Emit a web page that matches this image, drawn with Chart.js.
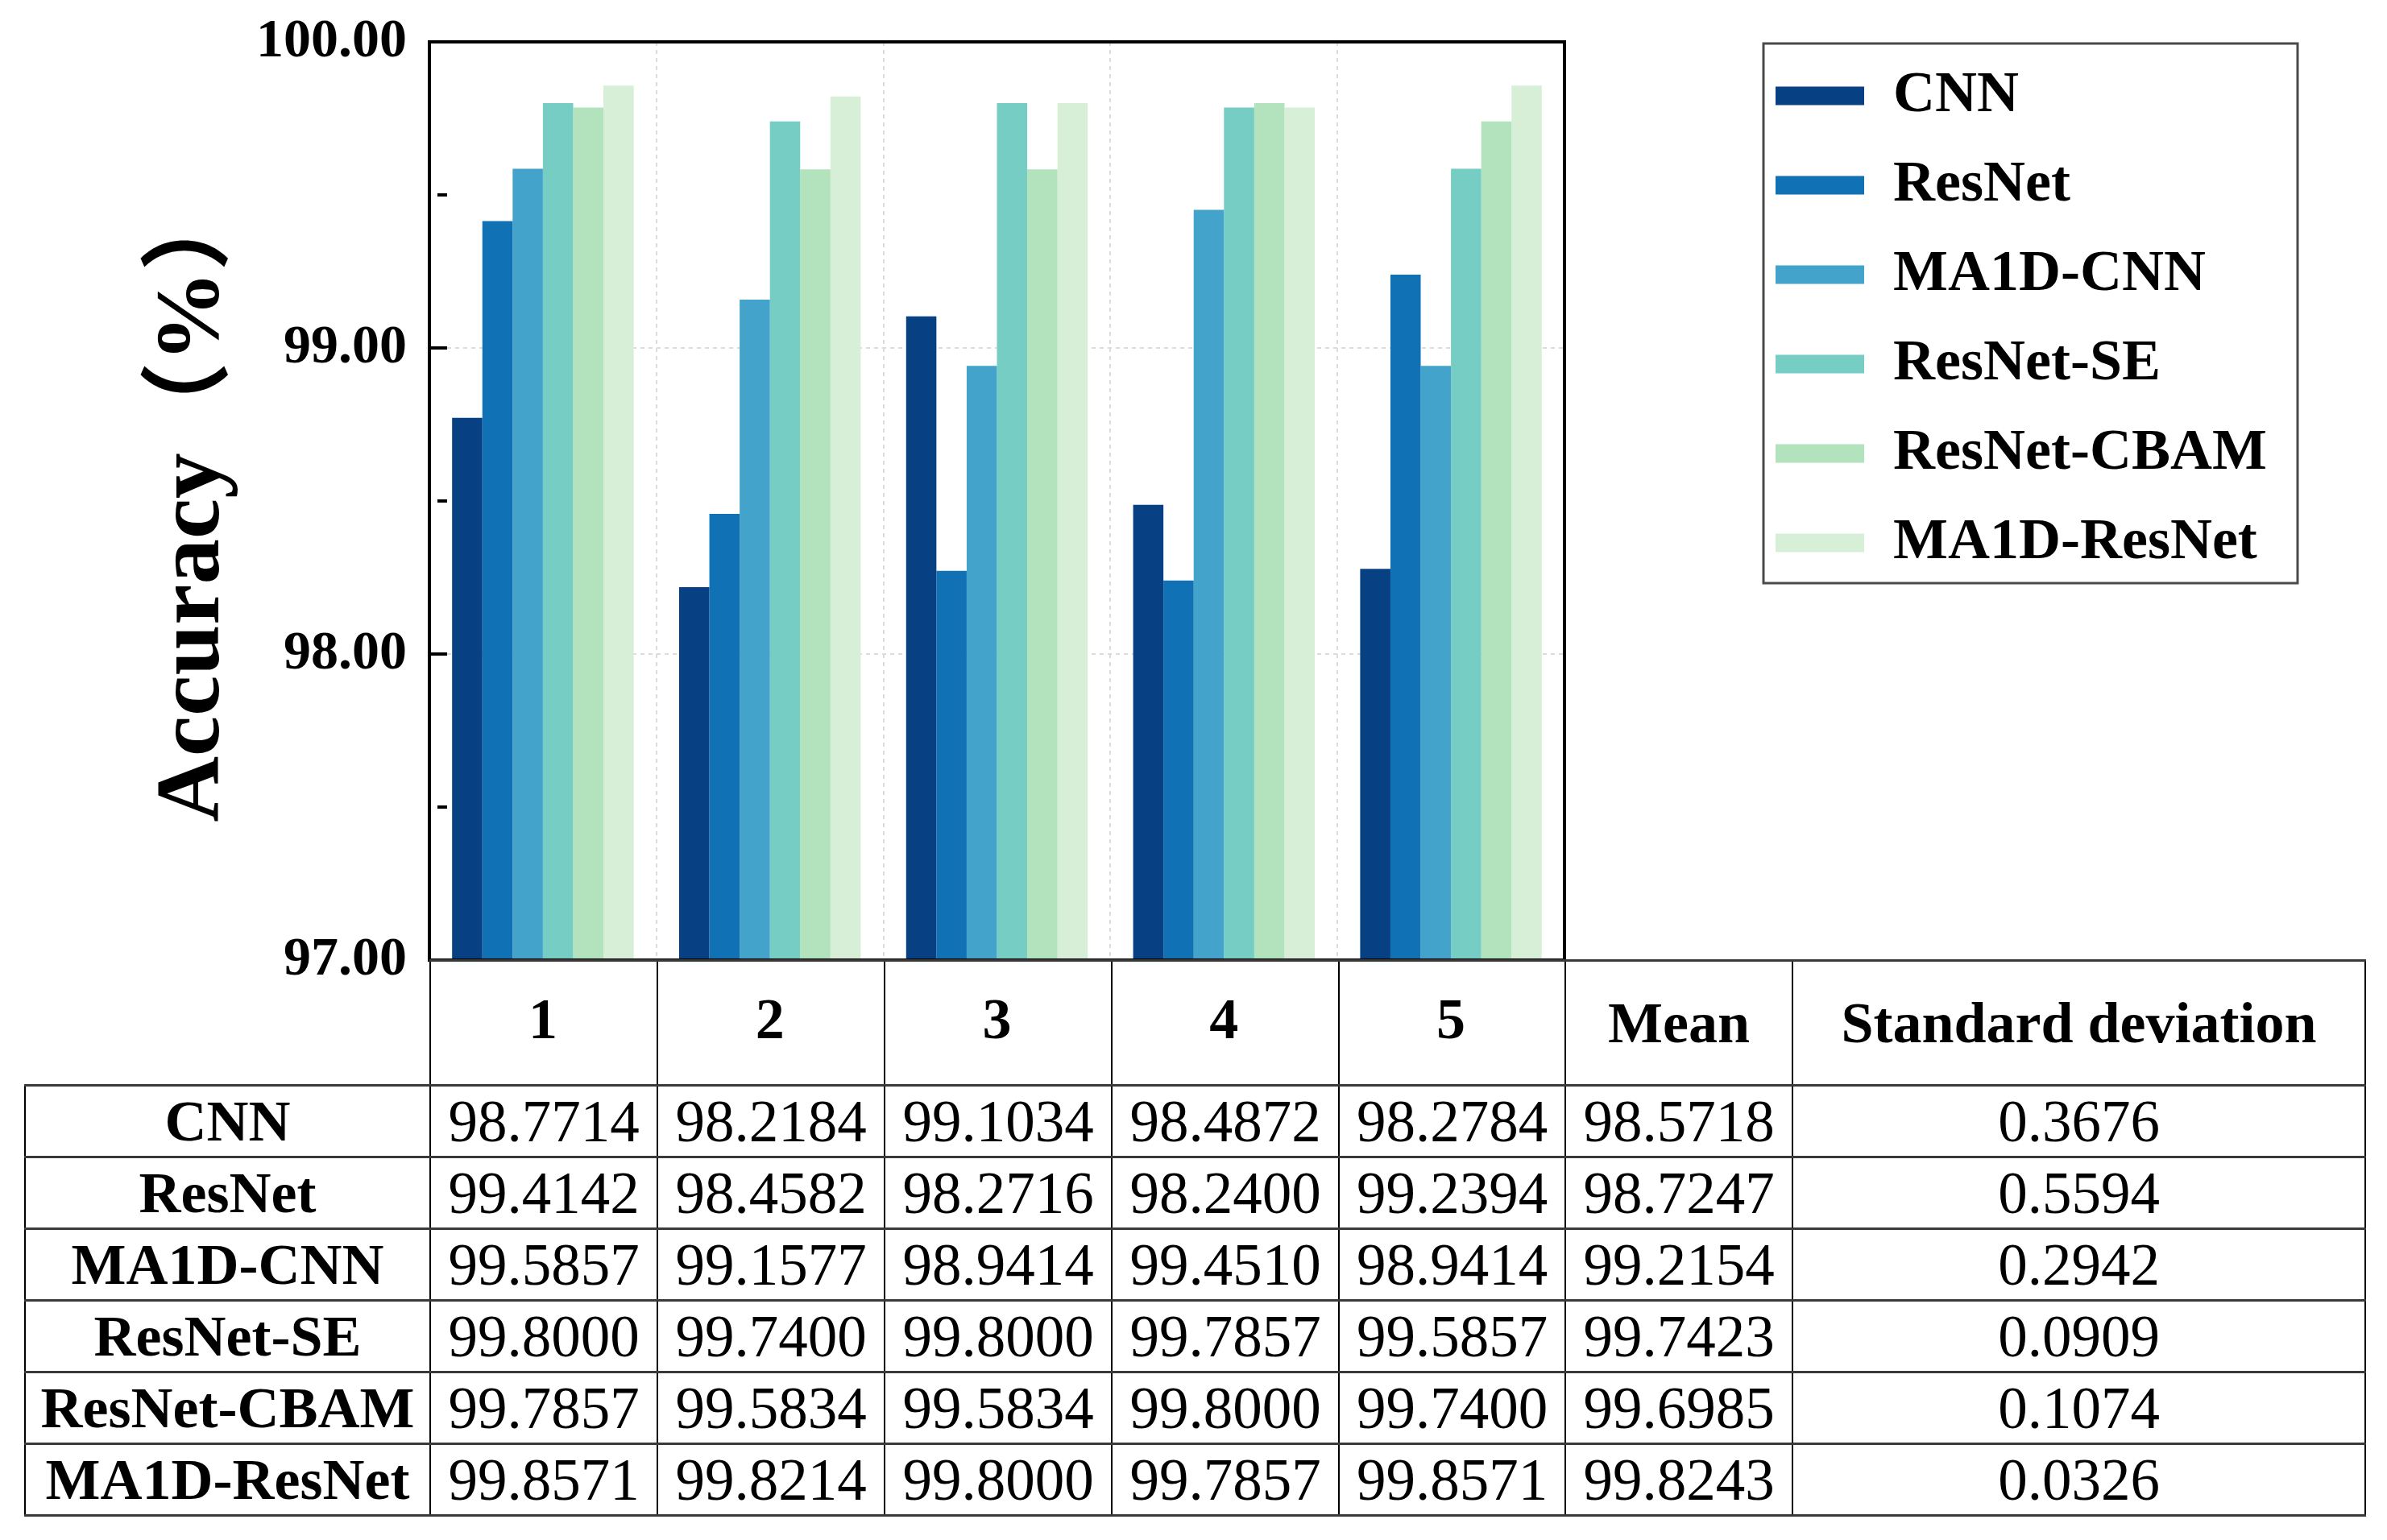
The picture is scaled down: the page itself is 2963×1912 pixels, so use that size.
<!DOCTYPE html>
<html>
<head>
<meta charset="utf-8">
<title>Accuracy of the five folds</title>
<script src="https://cdn.jsdelivr.net/npm/chart.js@4.4.1/dist/chart.umd.min.js"></script>
<style>
  html, body { margin: 0; padding: 0; background: #fff; overflow: hidden; }
  #wrap { position: relative; width: 2963px; height: 1912px; }
  #chart { position: absolute; left: 0; top: 0; width: 2963px; height: 1912px; }
  #stats {
    position: absolute; left: 30px; top: 1191px;
    border-collapse: collapse; table-layout: fixed;
    font-family: 'Liberation Serif'; color: #000;
  }
  #stats td, #stats th {
    padding: 0; text-align: center; vertical-align: middle; line-height: 1;
    white-space: nowrap; overflow: visible;
    font-family: 'Liberation Serif';
    border-left: 2px solid #000; border-right: 2px solid #000;
    border-top: 3px solid #3a3a3a; border-bottom: 3px solid #3a3a3a;
  }
  #stats th { font-weight: bold; font-size: 72px; }
  #stats td { font-weight: normal; font-size: 73px; }
  #stats td.model { font-weight: bold; font-size: 72px; }
  #stats tr.head { height: 155px; }
  #stats tr.row { height: 89px; }
  #stats th.corner { border-top: none; border-left: none; }
</style>
</head>
<body>
<div id="wrap">
  <canvas id="chart" width="2963" height="1912"></canvas>
  <table id="stats">
    <colgroup>
      <col style="width:503px"><col style="width:282px"><col style="width:282px">
      <col style="width:282px"><col style="width:282px"><col style="width:281px">
      <col style="width:282px"><col style="width:711px">
    </colgroup>
    <tbody id="statsBody"></tbody>
  </table>
</div>
<script>
'use strict';

//#region Data

const folds = ['1', '2', '3', '4', '5'];
const models = ['CNN', 'ResNet', 'MA1D-CNN', 'ResNet-SE', 'ResNet-CBAM', 'MA1D-ResNet'];
const modelColors = ['#084183', '#1171b5', '#43a3cb', '#76cdc4', '#b2e3bd', '#d7efd7'];

const cnnAcc = [98.7714, 98.2184, 99.1034, 98.4872, 98.2784];
const resnetAcc = [99.4142, 98.4582, 98.2716, 98.2400, 99.2394];
const ma1dCnnAcc = [99.5857, 99.1577, 98.9414, 99.4510, 98.9414];
const resnetSeAcc = [99.8000, 99.7400, 99.8000, 99.7857, 99.5857];
const resnetCbamAcc = [99.7857, 99.5834, 99.5834, 99.8000, 99.7400];
const ma1dResnetAcc = [99.8571, 99.8214, 99.8000, 99.7857, 99.8571];

const meanAcc = [98.5718, 98.7247, 99.2154, 99.7423, 99.6985, 99.8243];
const stdAcc = [0.3676, 0.5594, 0.2942, 0.0909, 0.1074, 0.0326];

const yTicks = [97, 98, 99, 100];

//#endregion

//#region Helpers

const serif = "'Liberation Serif'";
const allAcc = [cnnAcc, resnetAcc, ma1dCnnAcc, resnetSeAcc, resnetCbamAcc, ma1dResnetAcc];

function createElement(tag, parent, text) {
  const elem = document.createElement(tag);
  if (text !== undefined) elem.textContent = text;
  parent.appendChild(elem);
  return elem;
}

function isMajor(value) {
  return yTicks.includes(value);
}

//#endregion

//#region Table

function renderTable() {
  const body = document.getElementById('statsBody');
  const head = createElement('tr', body);
  head.className = 'head';
  createElement('th', head).className = 'corner';
  // fold numbers come from the chart's own x axis, these cells only hold the lines
  folds.forEach(() => createElement('th', head));
  createElement('th', head, 'Mean');
  createElement('th', head, 'Standard deviation');

  for (let i = 0; i < models.length; i++) {
    const tr = createElement('tr', body);
    tr.className = 'row';
    createElement('td', tr, models[i]).className = 'model';
    allAcc[i].forEach(v => createElement('td', tr, v.toFixed(4)));
    createElement('td', tr, meanAcc[i].toFixed(4));
    createElement('td', tr, stdAcc[i].toFixed(4));
  }
}

//#endregion

//#region Chart

// moves the legend to the upper right and draws the two frames
const framePlugin = {
  id: 'frames',
  beforeDraw(chart) {
    const legend = chart.legend;
    legend.left = 2165;
    legend.top = 44;
    legend.right = 2950;
    legend.bottom = 760;
    legend.width = legend.right - legend.left;
    legend.height = legend.bottom - legend.top;
  },
  afterDraw(chart) {
    const {ctx, chartArea} = chart;
    ctx.save();
    ctx.strokeStyle = '#000';
    ctx.lineWidth = 4;
    ctx.strokeRect(chartArea.left, chartArea.top, chartArea.width, chartArea.height);
    ctx.strokeStyle = '#4a4a4a';
    ctx.lineWidth = 3;
    ctx.strokeRect(2189, 54, 663, 670);
    ctx.restore();
  }
};

function renderChart() {
  Chart.defaults.color = '#000';
  Chart.defaults.font.family = serif;

  const datasets = models.map((name, i) => ({
    label: name,
    data: allAcc[i],
    backgroundColor: modelColors[i],
    borderWidth: 0,
    categoryPercentage: 0.8,
    barPercentage: 1.0
  }));

  const chartObj = {
    type: 'bar',
    data: { labels: folds, datasets: datasets },
    options: {
      responsive: false,
      animation: false,
      devicePixelRatio: 1,
      layout: { padding: { left: 0, top: 52, right: 1021, bottom: 565 } },
      plugins: {
        tooltip: { enabled: false },
        legend: {
          position: 'chartArea',
          align: 'start',
          labels: {
            boxWidth: 110,
            boxHeight: 23,
            padding: 39,
            color: '#000',
            font: { family: serif, size: 72, weight: 'bold' }
          }
        }
      },
      scales: {
        x: {
          type: 'category',
          afterFit: scale => { scale.height = 155; },
          grid: {
            offset: true,
            color: '#dcdcdc',
            lineWidth: 2,
            drawTicks: false
          },
          border: { display: true, color: '#000', width: 4, dash: [5, 5] },
          ticks: {
            padding: 35,
            color: '#000',
            font: { family: serif, size: 72, weight: 'bold' }
          }
        },
        y: {
          min: 97,
          max: 100,
          afterFit: scale => {
            scale.width = 533;
            scale.paddingTop = 0;
            scale.paddingBottom = 0;
          },
          grid: {
            color: ctx => (ctx.tick && isMajor(ctx.tick.value) ? '#dcdcdc' : 'rgba(0,0,0,0)'),
            lineWidth: 2,
            tickLength: -22,
            tickColor: '#000',
            tickWidth: 4,
            tickBorderDash: ctx => (ctx.tick && isMajor(ctx.tick.value) ? [] : [12, 400])
          },
          border: { display: true, color: '#000', width: 4, dash: [5, 5] },
          ticks: {
            stepSize: 0.5,
            padding: 50,
            color: '#000',
            font: { family: serif, size: 68, weight: 'bold' },
            callback: value => (isMajor(value) ? value.toFixed(2) : '')
          },
          title: {
            display: true,
            text: 'Accuracy（%）',
            color: '#000',
            padding: { top: 174, bottom: 0 },
            font: { family: "'Liberation Serif', 'Noto Sans CJK SC'", size: 113, weight: 'bold' }
          }
        }
      }
    },
    plugins: [framePlugin]
  };

  const chart = new Chart(document.getElementById('chart'), chartObj); //eslint-disable-line
}

//#endregion

renderTable();
renderChart();
</script>
</body>
</html>
